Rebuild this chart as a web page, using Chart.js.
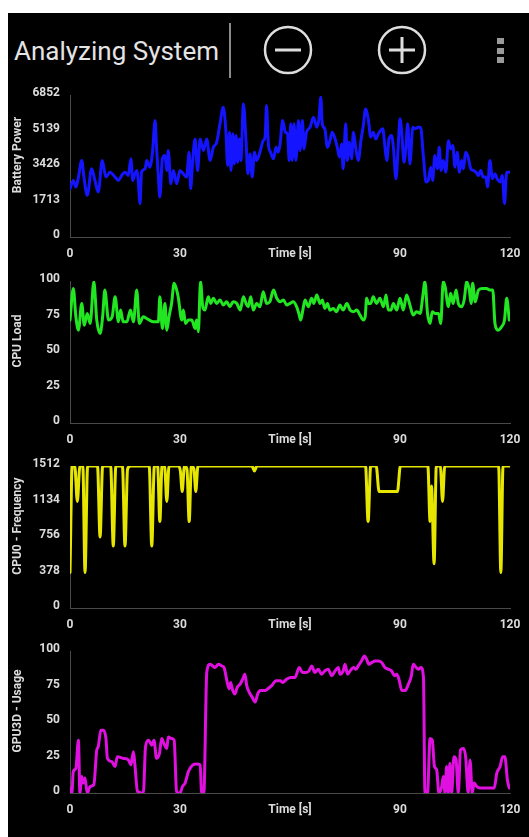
<!DOCTYPE html>
<html>
<head>
<meta charset="utf-8">
<script src="https://cdn.jsdelivr.net/npm/chart.js@4/dist/chart.umd.min.js"></script>
<style>
  html, body { margin: 0; background: #fff; width: 529px; height: 837px; overflow: hidden; font-family: Roboto, sans-serif; }
  #screen { position: absolute; left: 8px; top: 13px; width: 521px; height: 824px; background: #000; }
  #appTitle { position: absolute; left: 14px; top: 37px; line-height: 28px; font-size: 26px; color: #e4e4e4; white-space: nowrap; }
  #icons { position: absolute; left: 0; top: 0; }
  .panel { position: absolute; left: 8px; width: 521px; height: 184px; }
</style>
</head>
<body>
<div id="screen"></div>
<div id="appTitle">Analyzing System</div>
<svg id="icons" width="529" height="90">
  <line x1="230" y1="23" x2="230" y2="78" stroke="#8a8a8a" stroke-width="2"/>
  <circle cx="288" cy="50" r="23" fill="none" stroke="#dedede" stroke-width="2.5"/>
  <line x1="275" y1="50" x2="301" y2="50" stroke="#dedede" stroke-width="3"/>
  <circle cx="402" cy="50" r="23" fill="none" stroke="#dedede" stroke-width="2.5"/>
  <line x1="389" y1="50" x2="415" y2="50" stroke="#dedede" stroke-width="3"/>
  <line x1="402" y1="37" x2="402" y2="63" stroke="#dedede" stroke-width="3"/>
  <rect x="497" y="38" width="7" height="6" fill="#9a9a9a"/>
  <rect x="497" y="48" width="7" height="6" fill="#9a9a9a"/>
  <rect x="497" y="57" width="7" height="6" fill="#9a9a9a"/>
</svg>
<div class="panel" style="top:83px"><canvas id="batteryChart" width="521" height="184"></canvas></div>
<div class="panel" style="top:269px"><canvas id="cpuChart" width="521" height="184"></canvas></div>
<div class="panel" style="top:454px"><canvas id="freqChart" width="521" height="184"></canvas></div>
<div class="panel" style="top:639px"><canvas id="gpuChart" width="521" height="184"></canvas></div>
<script>
// x axis: time in seconds, the 60 s tick carries the axis name
const timeTicks = [0, 30, 60, 90, 120];
const timeTickLabels = ['0', '30', 'Time [s]', '90', '120'];

// battery power
const batteryTicks = [0, 1713, 3426, 5139, 6852];
const batteryTime = [0,0.9,1.6,2.3,3.2,3.8,4.7,5.9,6.8,7.7,8.8,9.8,10.9,12.3,13.2,14.1,15,15.9,16.6,17.1,17.7,18.2,18.6,19.1,19.5,20.5,20.9,21.8,22.5,23.2,23.6,24.1,24.5,25.2,25.9,26.4,26.8,27.5,28.2,29.1,30,30.9,31.8,32.5,32.9,33.4,34.1,34.8,35.5,36.4,37.3,38.2,39.1,40,40.9,41.8,42.5,43,43.5,43.9,44.4,44.8,45.3,45.7,46.2,46.6,47.3,48,48.5,49.1,49.7,50.3,50.9,51.8,52.7,53.2,53.6,54.1,54.7,55.5,56.2,56.8,57.3,58,58.7,59.3,59.8,60.2,60.6,61.1,61.6,62.3,62.7,63.4,63.8,64.5,65.5,66.4,67.3,67.9,68.4,68.8,69.5,70.2,70.9,71.5,72.3,72.9,73.5,74.1,74.5,75.2,75.6,76.2,76.8,77.3,77.9,78.6,79.4,80,80.6,81.4,82,82.7,83.4,84.1,84.7,85.3,85.9,86.4,87,87.7,88.2,88.9,89.5,90,90.5,91.1,91.6,92.1,92.7,93.5,94.1,95,95.6,96.4,97.1,97.7,98.4,98.9,99.5,100.2,100.7,101.2,101.8,102.5,103.2,103.8,104.4,105,105.6,106.2,106.8,107.3,107.9,108.6,109.3,110,110.7,111.4,112,112.7,113.4,113.9,114.5,115.2,115.9,116.5,117.3,117.9,118.5,119.1,119.8];
const batteryPower = [2330,2730,2410,2890,3690,2890,2010,3290,2730,2170,3690,2890,3130,2890,2730,2970,3130,2970,3770,2730,3050,3210,2730,1610,3130,3290,3690,3370,4090,5620,4330,2890,1930,3770,3930,3210,4170,2570,3210,2570,3210,3050,2890,4090,2330,3530,4730,3210,4730,4170,4730,3690,4330,4570,5460,6260,5140,3450,5060,3210,4980,3530,4900,3610,4730,3690,6420,4650,3050,4010,2890,4090,3690,4090,4650,4820,6340,4490,4090,3770,4330,4090,4490,5620,5060,4980,3690,5460,3690,5460,3690,5620,4170,5620,4250,5060,5300,5780,5300,5700,6740,5460,5220,4330,4650,5060,4730,4330,3850,4490,3290,5460,3690,4570,3770,5060,4330,3690,4730,5380,6180,5620,4820,5060,4730,4980,5140,5220,4330,3690,4730,4900,4330,2810,4330,5700,4980,3610,4330,5460,3530,5300,5220,5300,5300,3850,2650,2730,3370,2730,3930,3290,4330,3210,3690,3130,4650,4250,4410,3370,4090,3130,3690,3290,4090,3850,3290,3210,3130,2970,3210,2890,2890,2410,3690,2810,3050,2810,2650,2970,1610,3130,3130];

// CPU load
const loadTicks = [0, 25, 50, 75, 100];
const cpuTime = [0,0.9,1.6,2.3,3.2,3.9,4.7,5.5,6.5,7.3,8.2,8.9,9.5,10.5,11.5,12.3,13.2,13.8,14.5,15.5,16.5,17.3,18.2,18.9,20,20.9,22.7,24.1,24.5,25.2,25.9,26.4,27,27.7,28.4,29.1,29.5,30.5,30.9,31.5,32.3,33.2,34.1,34.5,35,35.6,36.2,36.8,37.7,38.4,39.1,40,40.9,41.8,42.7,43.6,44.5,45.5,46.4,47.3,48,48.6,49.3,50,50.9,51.8,52.7,53.6,54.5,55.5,56.4,57.3,58.2,59.1,60,60.9,61.8,62.4,62.9,63.5,64.1,65,65.9,66.5,67.3,68.2,68.8,69.5,70.2,70.9,71.8,72.7,73.6,74.5,75.5,76.4,77.3,78.2,79.1,80,80.5,80.9,81.4,82,82.7,83.6,84.5,85.5,86.2,86.8,87.5,88.2,89.1,90,90.9,91.8,92.7,93.6,94.5,95.5,96.2,96.8,97.5,98.2,98.8,99.5,100.5,101.1,101.8,102.3,103.2,103.8,104.5,105.3,105.9,106.8,107.5,108.2,108.9,109.4,109.8,110.5,111.4,112.5,113.6,114.5,115.3,115.9,116.8,117.7,118.5,119.1,119.8];
const cpuLoad = [72.5,94.8,74.8,65.4,84.2,68.9,77.2,70.1,99.5,72.5,63.1,74.8,93.6,72.5,74.8,88.9,71.3,79.5,71.3,71.3,79.5,71.3,93.6,70.1,74.8,73.6,71.3,71.3,88.9,66.6,84.2,65.4,74.8,84.2,98.4,93.6,88.9,72.5,79.5,70.1,72.5,72.5,66.6,72.5,64.2,99.5,81.9,79.5,88.9,84.2,87.8,84.2,86.6,83.1,85.4,81.9,85.4,84.2,79.5,88.9,84.2,81.9,88.9,79.5,84.2,81.9,92.5,84.2,85.4,93.6,87.8,85.4,86.6,83.1,84.2,85.4,81.9,77.2,72.5,79.5,86.6,81.9,87.8,84.2,90.1,84.2,86.6,80.7,84.2,79.5,80.7,78.4,83.1,79.5,84.2,79.5,78.4,79.5,76,72.5,74.8,87.8,84.2,84.2,88.9,84.2,87.8,81.9,90.1,79.5,79.5,84.2,79.5,87.8,79.5,90.1,83.1,76,78.4,77.2,88.9,99.5,77.2,70.1,78.4,77.2,77.2,70.1,99.5,96,81.9,91.3,84.2,93.6,84.2,81.9,86.6,99.5,93.6,84.2,98.4,85.4,93.6,94.8,94.8,93.6,93.6,70.1,65.4,67.8,72.5,87.8,72.5];

// CPU0 frequency
const freqTicks = [0, 378, 756, 1134, 1512];
const freqTime = [0,0.6,1.3,2,2.7,3.5,4.1,4.8,7.5,8.2,8.9,11.1,11.8,12.5,14.3,15,15.7,16.5,21.6,22.3,23,23.9,24.5,25.1,25.8,26.4,27,29.5,30.1,30.6,31.2,31.9,32.5,33.1,33.8,34.3,34.9,49.6,50.3,51,80.6,81.3,82,83.5,84.3,89.3,90.1,97.6,98.2,98.6,99.3,99.9,101,101.6,102.2,116.9,117.5,118.1,120];
const cpuFreq = [378,1512,1512,1134,1512,1512,378,1512,1512,756,1512,1512,660,1512,1512,660,1480,1512,1512,660,1512,1512,920,1512,1512,1134,1512,1512,1460,1240,1512,1480,920,1512,1480,1240,1512,1512,1460,1512,1512,920,1512,1512,1240,1240,1512,1512,920,1300,470,1512,1512,1134,1512,1512,378,1512,1512];

// GPU3D usage
const usageTicks = [0, 25, 50, 75, 100];
const gpuTime = [0,0.5,0.9,1.6,2.3,2.7,3.2,3.6,4.1,4.7,5.5,6.5,7.3,7.7,8.4,9.1,9.8,10.2,11.4,12.3,12.9,14.5,15.9,16.6,17.3,17.7,18.4,19.5,20,20.6,21.4,22.3,22.9,23.6,24.4,25,25.6,26.4,26.8,27.7,28.4,29.1,30,30.7,31.4,32.3,33.5,34.5,35.5,35.9,36.5,37.3,38.2,38.9,39.5,40.5,41.4,42,42.7,43.4,43.8,44.4,45,45.6,46.4,47.1,47.7,48.2,48.9,49.7,50.5,51.2,52,53.2,53.9,55,56.2,57.3,58,59.1,60.2,61.4,62.5,63.4,64.4,65.2,65.9,66.8,67.7,68.6,69.5,70.4,71.4,72.3,73.2,73.6,74.5,75,75.7,76.4,77.3,78,78.6,79.5,80.3,80.9,81.5,82.3,83.2,84.1,85,85.9,86.8,87.7,88.5,89.1,89.7,90.5,91.4,92.3,93.1,93.6,94.4,95,95.7,96.4,96.8,97.5,98.2,98.8,99.4,100,100.6,101.4,101.8,102.3,102.7,103.2,103.6,104.1,104.7,105.3,105.9,106.5,107.3,107.9,108.6,109.1,109.7,110.2,110.9,111.8,113.6,115,115.7,116.4,117.3,118,118.6,119.3,119.8];
const gpuUsage = [3.5,0,15.1,17.4,37.2,0,11.6,7,10.5,0,4.7,5.8,30.2,32.6,44.2,44.2,38.4,24.4,22.1,18.6,25.6,24.4,23.3,19.8,29.1,19.8,1.2,0,0,32.6,37.2,33.7,37.2,24.4,27.9,38.4,34.9,31.4,39.5,38.4,37.2,0,0,4.7,7,15.1,19.8,20.5,19.8,0,0,84.9,90.7,89.5,88.4,90.7,89.5,88.4,80.2,73.3,77.9,72.1,69.8,74.4,76.7,80.2,83.7,75.6,70.9,67.4,64,69.8,72.1,72.1,73.3,75.6,79.1,79.1,77.9,80.2,81.4,81.4,88.4,84.9,84.9,86,89.5,84.9,87.2,83.7,86,87.2,82.6,86,88.4,83.7,86,90.7,83.7,86,88.4,87.2,89.5,93,96.5,94.2,90.7,91.9,93,93,91.9,88.4,87.2,86,82.6,83.7,80.2,72.1,72.1,76.7,82.6,90.7,88.4,87.2,88.4,81.4,0,0,38.4,37.2,18.6,16.3,0,4.7,11.6,0,18.6,0,21,0,25.6,23.3,0,30.2,31.4,25.6,0,23.3,0,7,4.7,3.5,3.5,3.5,3.5,14,18.6,25.6,25.6,9,3.5];

const TEXT = '#dcdcdc';
const AXIS = '#4a4a4a';
const TICK_FONT = { family: 'Roboto', size: 12, weight: 'bold' };

// rotated y-axis name, sits a bit above the plot centre like the app does
const yTitlePlugin = {
  id: 'yTitle',
  afterDraw(chart, args, opts) {
    const { ctx, chartArea } = chart;
    ctx.save();
    ctx.fillStyle = TEXT;
    ctx.font = 'bold 12px Roboto';
    ctx.textAlign = 'center';
    ctx.textBaseline = 'middle';
    ctx.translate(opts.x, (chartArea.top + chartArea.bottom) / 2 + opts.dy);
    ctx.rotate(-Math.PI / 2);
    ctx.fillText(opts.text, 0, 0);
    ctx.restore();
  }
};

function makeChart(canvasId, times, values, color, yTicks, yName) {
  const points = times.map((t, i) => ({ x: t, y: values[i] }));
  return new Chart(document.getElementById(canvasId), {
    type: 'line',
    data: { datasets: [{ data: points, borderColor: color, borderWidth: 3, pointRadius: 0,
      cubicInterpolationMode: 'monotone', borderJoinStyle: 'round', borderCapStyle: 'round' }] },
    options: {
      responsive: false, animation: false, events: [],
      layout: { padding: { top: 12, right: 19, left: 0, bottom: 0 } },
      plugins: { legend: { display: false }, tooltip: { enabled: false },
        yTitle: { text: yName, x: 10, dy: -11 } },
      scales: {
        x: {
          type: 'linear', min: 0, max: 120,
          afterBuildTicks: s => { s.ticks = timeTicks.map(v => ({ value: v })); },
          afterFit: s => { s.height = 30; s.paddingLeft = 0; s.paddingRight = 0; },
          grid: { display: false, drawTicks: false },
          border: { display: true, color: AXIS, width: 1 },
          ticks: { color: TEXT, font: TICK_FONT, padding: 10, maxRotation: 0, autoSkip: false,
            callback: v => timeTickLabels[timeTicks.indexOf(v)] }
        },
        y: {
          min: 0, max: yTicks[yTicks.length - 1],
          afterBuildTicks: s => { s.ticks = yTicks.map(v => ({ value: v })); },
          afterFit: s => { s.width = 62; s.paddingTop = 0; s.paddingBottom = 0; },
          grid: { display: false, drawTicks: false },
          border: { display: true, color: AXIS, width: 1 },
          ticks: { color: TEXT, font: TICK_FONT, padding: 10, labelOffset: -2, autoSkip: false,
            callback: v => String(v) }
        }
      }
    },
    plugins: [yTitlePlugin]
  });
}

makeChart('batteryChart', batteryTime, batteryPower, '#1414ff', batteryTicks, 'Battery Power');
makeChart('cpuChart', cpuTime, cpuLoad, '#22e622', loadTicks, 'CPU Load');
makeChart('freqChart', freqTime, cpuFreq, '#e6e600', freqTicks, 'CPU0 - Frequency');
makeChart('gpuChart', gpuTime, gpuUsage, '#e010e0', usageTicks, 'GPU3D - Usage');
</script>
</body>
</html>
